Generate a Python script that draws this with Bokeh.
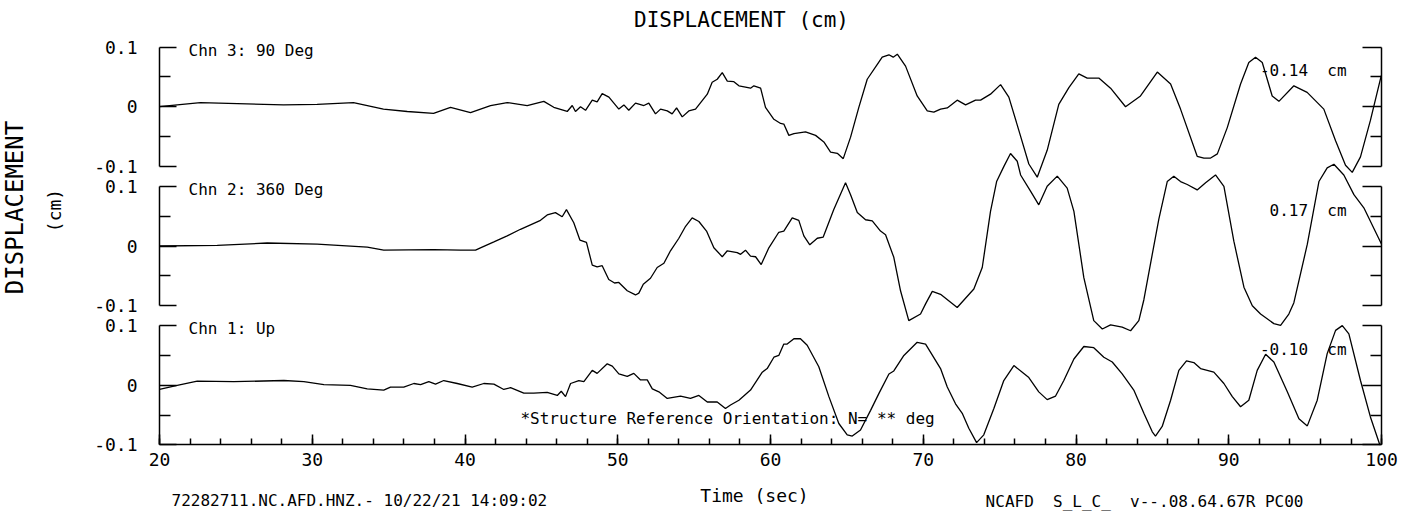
import numpy as np
from bokeh.plotting import figure
from bokeh.models import Range1d, LinearAxis, FixedTicker, SingleIntervalTicker, Label
from bokeh.embed import file_html
from bokeh.resources import INLINE

FONT = "DejaVu Sans Mono"
NB = "\u00a0"  # keeps double spaces visible in SVG text

# ---------------- data (time in s, displacement in cm) ----------------
# Chn 3: 90 Deg
t3 = [20.00, 21.16, 22.68, 28.12, 30.32, 32.70, 34.66, 36.22, 37.94, 39.05, 40.36, 41.67,
      42.76, 44.07, 45.16, 45.81, 46.69, 47.02, 47.23, 47.56, 47.89, 48.33, 48.65, 48.98,
      49.42, 50.07, 50.40, 50.72, 51.16, 51.71, 52.03, 52.47, 52.80, 53.24, 53.56, 53.85,
      54.22, 54.65, 55.09, 55.86, 56.18, 56.51, 56.84, 57.17, 57.60, 57.93, 58.36, 58.69,
      58.91, 59.35, 59.67, 60.22, 60.66, 60.87, 61.20, 61.53, 62.29, 62.95, 63.49, 63.93,
      64.37, 64.76, 65.24, 65.78, 66.33, 66.99, 67.31, 67.75, 68.03, 68.30, 68.84, 69.60,
      70.26, 70.69, 71.13, 71.57, 72.22, 72.77, 73.42, 73.75, 74.40, 75.06, 75.60, 76.26,
      76.91, 77.46, 78.11, 78.87, 79.53, 80.18, 80.73, 81.49, 82.26, 83.24, 84.22, 85.32,
      86.19, 86.84, 87.93, 88.37, 88.81, 89.25, 89.90, 90.77, 91.31, 91.75, 92.19, 92.84,
      93.28, 94.26, 95.13, 96.22, 96.99, 97.64, 98.08, 98.62, 99.27, 99.98]
v3 = [0.000, 0.003, 0.007, 0.003, 0.004, 0.007, -0.004, -0.008, -0.011, -0.001, -0.010, 0.002,
      0.007, 0.002, 0.009, -0.001, -0.008, 0.002, -0.008, 0.000, -0.006, 0.011, 0.008, 0.022,
      0.016, -0.004, 0.003, -0.006, 0.006, 0.002, 0.006, -0.012, -0.004, -0.007, -0.012, -0.002,
      -0.017, -0.007, -0.004, 0.021, 0.041, 0.046, 0.057, 0.043, 0.042, 0.035, 0.033, 0.031,
      0.035, 0.031, -0.001, -0.021, -0.028, -0.029, -0.048, -0.045, -0.042, -0.048, -0.059, -0.076,
      -0.078, -0.087, -0.051, -0.001, 0.046, 0.071, 0.083, 0.087, 0.083, 0.088, 0.068, 0.018,
      -0.007, -0.009, -0.004, -0.002, 0.011, 0.003, 0.011, 0.011, 0.021, 0.037, 0.016, -0.040,
      -0.096, -0.118, -0.073, 0.004, 0.032, 0.055, 0.048, 0.048, 0.031, 0.000, 0.018, 0.058,
      0.038, -0.004, -0.083, -0.086, -0.086, -0.079, -0.035, 0.038, 0.074, 0.083, 0.074, 0.018,
      0.009, 0.035, 0.024, -0.004, -0.057, -0.098, -0.110, -0.084, -0.023, 0.052]

# Chn 2: 360 Deg
t2 = [20.00, 23.78, 27.05, 30.32, 33.60, 34.68, 37.96, 39.71, 40.69, 41.01, 41.89, 42.76,
      43.63, 44.94, 45.38, 45.92, 46.36, 46.64, 47.12, 47.52, 47.95, 48.33, 48.65, 48.98,
      49.41, 49.79, 50.07, 50.62, 51.16, 51.38, 51.67, 52.14, 52.58, 53.02, 53.45, 54.00,
      54.44, 54.87, 55.31, 55.81, 56.29, 56.84, 57.17, 57.82, 58.04, 58.36, 58.69, 59.02,
      59.39, 59.89, 60.54, 60.87, 61.42, 61.85, 62.18, 62.57, 63.06, 63.45, 64.14, 64.91,
      65.24, 65.68, 66.22, 66.66, 67.20, 67.53, 68.07, 68.51, 69.05, 69.82, 70.15, 70.59,
      71.13, 72.22, 73.31, 73.86, 74.40, 74.80, 75.27, 75.71, 76.15, 76.37, 77.02, 77.56,
      78.11, 78.77, 79.42, 79.86, 80.51, 81.16, 81.72, 82.26, 83.02, 83.57, 84.11, 84.44,
      84.77, 85.42, 85.97, 86.40, 86.84, 87.28, 87.93, 88.48, 89.13, 89.68, 90.33, 90.99,
      91.54, 92.08, 92.95, 93.39, 93.93, 94.26, 95.14, 95.90, 96.44, 96.88, 97.53, 98.19,
      98.84, 100.00]
v2 = [0.000, 0.001, 0.005, 0.003, -0.002, -0.007, -0.006, -0.007, -0.007, -0.003, 0.007, 0.017,
      0.028, 0.043, 0.052, 0.056, 0.049, 0.061, 0.039, 0.010, 0.006, -0.032, -0.035, -0.033,
      -0.056, -0.062, -0.061, -0.075, -0.082, -0.079, -0.064, -0.054, -0.036, -0.029, -0.008, 0.013,
      0.033, 0.047, 0.041, 0.025, -0.003, -0.018, -0.008, -0.011, -0.014, -0.007, -0.017, -0.018,
      -0.031, -0.003, 0.023, 0.025, 0.047, 0.043, 0.017, 0.002, 0.013, 0.015, 0.061, 0.106,
      0.086, 0.056, 0.044, 0.042, 0.025, 0.019, -0.019, -0.075, -0.125, -0.114, -0.097, -0.076,
      -0.081, -0.103, -0.072, -0.036, 0.058, 0.108, 0.133, 0.155, 0.142, 0.119, 0.092, 0.069,
      0.100, 0.117, 0.097, 0.058, -0.053, -0.125, -0.139, -0.132, -0.136, -0.142, -0.125, -0.090,
      -0.044, 0.045, 0.108, 0.117, 0.108, 0.103, 0.094, 0.106, 0.119, 0.100, 0.008, -0.069,
      -0.100, -0.114, -0.130, -0.133, -0.114, -0.095, 0.003, 0.108, 0.131, 0.137, 0.119, 0.086,
      0.064, 0.003]

# Chn 1: Up
t1 = [20.00, 21.16, 22.47, 24.86, 28.14, 29.45, 30.76, 32.50, 33.60, 34.68, 35.12, 35.99,
      36.65, 37.09, 37.63, 38.07, 38.61, 39.49, 40.47, 41.23, 41.89, 42.54, 42.98, 43.85,
      44.50, 45.38, 46.04, 46.30, 46.58, 46.91, 47.45, 47.78, 48.33, 48.65, 49.31, 49.64,
      50.07, 50.62, 51.05, 51.49, 51.93, 52.26, 52.69, 53.24, 54.11, 54.76, 55.31, 55.86,
      56.51, 57.05, 57.38, 57.93, 58.69, 59.46, 59.78, 60.22, 60.54, 60.87, 61.09, 61.53,
      61.96, 62.40, 63.16, 63.82, 64.47, 65.02, 65.35, 65.89, 66.55, 67.09, 67.75, 68.07,
      68.73, 69.60, 70.15, 71.13, 71.57, 72.11, 72.55, 72.98, 73.49, 73.96, 74.62, 75.27,
      75.93, 76.48, 76.91, 77.56, 78.11, 78.66, 79.20, 79.86, 80.51, 81.16, 81.82, 82.37,
      83.02, 83.78, 84.44, 84.99, 85.20, 85.64, 86.19, 86.73, 87.23, 87.71, 88.15, 89.02,
      89.68, 90.23, 90.77, 91.31, 91.86, 92.41, 92.95, 93.83, 94.59, 95.14, 95.79, 96.44,
      96.99, 97.43, 97.86, 98.62, 99.27, 99.89]
v1 = [-0.007, 0.000, 0.007, 0.006, 0.008, 0.006, 0.001, 0.000, -0.006, -0.008, -0.003, -0.003,
      0.003, 0.001, 0.006, 0.002, 0.008, 0.003, -0.003, 0.003, 0.002, -0.007, -0.004, -0.013,
      -0.013, -0.012, -0.017, -0.010, -0.019, 0.003, 0.008, 0.006, 0.025, 0.020, 0.036, 0.032,
      0.019, 0.015, 0.020, 0.009, 0.009, -0.006, -0.011, -0.022, -0.018, -0.022, -0.017, -0.028,
      -0.028, -0.039, -0.033, -0.025, -0.008, 0.022, 0.028, 0.047, 0.050, 0.069, 0.069, 0.078,
      0.078, 0.067, 0.031, -0.019, -0.064, -0.083, -0.085, -0.075, -0.042, -0.014, 0.019, 0.024,
      0.050, 0.072, 0.069, 0.028, -0.003, -0.031, -0.047, -0.072, -0.096, -0.083, -0.039, 0.008,
      0.033, 0.022, 0.013, -0.011, -0.024, -0.018, 0.008, 0.044, 0.065, 0.063, 0.047, 0.039,
      0.019, -0.008, -0.047, -0.078, -0.085, -0.069, -0.025, 0.025, 0.041, 0.038, 0.028, 0.022,
      0.003, -0.019, -0.036, -0.025, 0.025, 0.052, 0.039, -0.011, -0.056, -0.068, -0.025, 0.053,
      0.092, 0.100, 0.086, 0.008, -0.053, -0.100]

channel_names = ["Chn 3: 90 Deg", "Chn 2: 360 Deg", "Chn 1: Up"]
peak_texts = ["-0.14" + NB + " cm", "0.17" + NB + " cm", "-0.10" + NB + " cm"]
y_tick_values = [-0.1, 0.0, 0.1]
y_tick_labels = ["-0.1", "0", "0.1"]
y_minor_values = [-0.05, 0.05]
T0, T1 = 20, 100

STEP = 0.7 / 3            # vertical stacking offset between channels (cm)
offsets = [2 * STEP, STEP, 0.0]
series = [(t3, v3), (t2, v2), (t1, v1)]

# ---------------- figure (frame fills the whole canvas) ----------------
p = figure(width=1411, height=512,
           x_range=Range1d(9.591, 101.96), y_range=Range1d(-0.2131, 0.6446),
           x_axis_location=None, y_axis_location=None,
           output_backend="svg", toolbar_location=None,
           min_border_left=0, min_border_right=0, min_border_top=0, min_border_bottom=0)
p.outline_line_color = None
p.grid.visible = False
p.background_fill_color = "white"
p.border_fill_color = "white"

for (t, v), off in zip(series, offsets):
    p.line(t, np.array(v) + off, line_color="black", line_width=1.3)

AX = dict(axis_line_width=1.5, major_tick_line_width=1.5, minor_tick_line_width=1.5,
          axis_line_color="black", major_tick_line_color="black", minor_tick_line_color="black")

# one left and one right axis segment per channel
for off in offsets:
    ticks = [round(off + v, 6) for v in y_tick_values]
    minors = [round(off + v, 6) for v in y_minor_values]
    bounds = (round(off - 0.1, 6), round(off + 0.1, 6))
    lax = LinearAxis(fixed_location=T0, bounds=bounds,
                     ticker=FixedTicker(ticks=ticks, minor_ticks=minors),
                     major_label_overrides=dict(zip(ticks, y_tick_labels)),
                     major_tick_in=17, major_tick_out=0, minor_tick_in=11, minor_tick_out=0,
                     major_label_standoff=22, major_label_text_font=FONT,
                     major_label_text_font_size="18px", major_label_text_color="black", **AX)
    p.add_layout(lax, "left")
    rax = LinearAxis(fixed_location=T1, bounds=bounds,
                     ticker=FixedTicker(ticks=ticks, minor_ticks=minors),
                     major_tick_in=19, major_tick_out=0, minor_tick_in=11, minor_tick_out=0,
                     major_label_text_color=None, **AX)
    p.add_layout(rax, "right")

xax = LinearAxis(fixed_location=-0.1, bounds=(T0, T1),
                 ticker=SingleIntervalTicker(interval=10, num_minor_ticks=5),
                 major_tick_in=10, major_tick_out=0, minor_tick_in=6, minor_tick_out=0,
                 major_label_standoff=8, major_label_text_font=FONT,
                 major_label_text_font_size="18px", major_label_text_color="black", **AX)
p.add_layout(xax, "below")

def add_label(x, y, text, size, align="left", angle=0.0):
    p.add_layout(Label(x=x, y=y, text=text, text_font=FONT, text_font_size=size,
                       text_color="black", text_align=align, text_baseline="middle",
                       angle=angle))

# channel names and peak values
for name, peak, off in zip(channel_names, peak_texts, offsets):
    add_label(21.9, off + 0.095, name, "16px")
    add_label(97.71, off + 0.06, peak, "16px", align="right")

add_label(43.63, -0.055, "*Structure Reference Orientation: N= ** deg", "16px")

# titles and captions
add_label(58.1, 0.612, "DISPLACEMENT (cm)", "21px", align="center")
add_label(58.95, -0.1846, "Time (sec)", "18px", align="center")
add_label(20.79, -0.193, "72282711.NC.AFD.HNZ.- 10/22/21 14:09:02", "16px")
add_label(74.08, -0.1946, "NCAFD" + NB + " S_L_C_" + NB + " v--.08.64.67R PC00", "16px")
add_label(10.57, 0.2978, "DISPLACEMENT", "24px", align="center", angle=np.pi / 2)
add_label(13.13, 0.2928, "(cm)", "18px", align="center", angle=np.pi / 2)

open("out.html", "w").write(file_html(p, INLINE))
